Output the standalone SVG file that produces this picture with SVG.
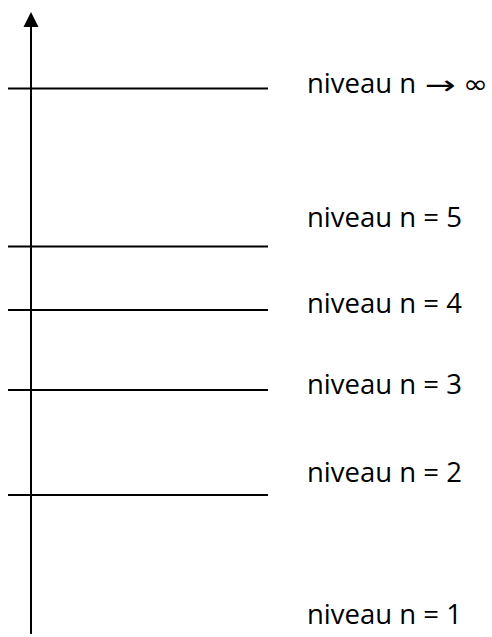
<svg xmlns="http://www.w3.org/2000/svg" width="492" height="637" viewBox="0 0 492 637">
<defs>
<style>
.ln{stroke:#000;stroke-width:2;fill:none}
.lb{font-family:"Open Sans","Liberation Sans",sans-serif;font-size:27.5px;fill:#000}
.sym{font-family:"DejaVu Sans ExtraLight","DejaVu Sans",sans-serif;font-size:26px;fill:#000}
</style>
</defs>
<rect width="492" height="637" fill="#fff"/>
<g id="connectors">
<line class="ln" x1="31" y1="634" x2="31" y2="27"/>
<polygon points="31,12 23.5,27 38.5,27" fill="#000"/>
</g>
<g id="level-inf"><line class="ln" x1="8" y1="88.5" x2="268" y2="88.5"/><text class="lb" x="307" y="93">niveau n</text><text class="sym" x="425" y="94" textLength="31" lengthAdjust="spacingAndGlyphs">→</text><text class="sym" x="463" y="93" textLength="25" lengthAdjust="spacingAndGlyphs">∞</text></g>
<g id="level-5"><line class="ln" x1="8" y1="246.5" x2="268" y2="246.5"/><text class="lb" x="307" y="227">niveau n = 5</text></g>
<g id="level-4"><line class="ln" x1="8" y1="310" x2="268" y2="310"/><text class="lb" x="307" y="313">niveau n = 4</text></g>
<g id="level-3"><line class="ln" x1="8" y1="390" x2="268" y2="390"/><text class="lb" x="307" y="394">niveau n = 3</text></g>
<g id="level-2"><line class="ln" x1="8" y1="495" x2="268" y2="495"/><text class="lb" x="307" y="482">niveau n = 2</text></g>
<g id="level-1"><text class="lb" x="307" y="624">niveau n = 1</text></g>
</svg>
